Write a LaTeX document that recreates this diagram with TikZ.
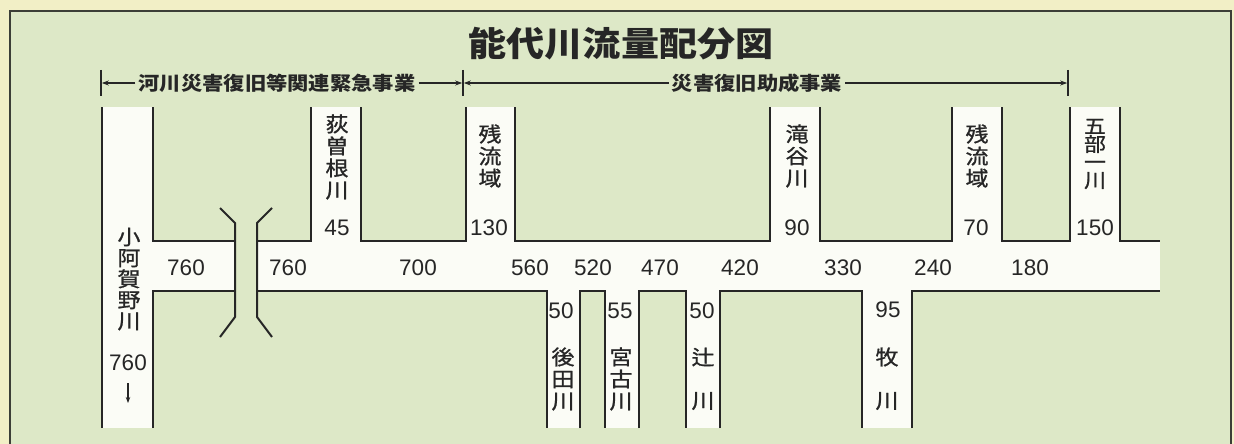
\documentclass[tikz,border=0pt]{standalone}
\usepackage{fontspec}
\setmainfont{Liberation Sans}
\newfontfamily\cjk{Noto Sans CJK JP}[FakeStretch=1.12]
\newfontfamily\cjkm{Noto Sans CJK JP}[FakeStretch=1.12, FakeBold=1]
\usetikzlibrary{arrows.meta}
\definecolor{cream}{RGB}{242,239,198}
\definecolor{panel}{RGB}{221,232,199}
\definecolor{chan}{RGB}{251,252,246}
\definecolor{ink}{RGB}{38,38,38}
\definecolor{frame}{RGB}{60,62,55}
\begin{document}
\begin{tikzpicture}[x=1pt,y=-1pt,
  wall/.style={draw=ink, line width=2.4pt, line join=miter},
  num/.style={font=\fontsize{22.5}{22.5}\selectfont, inner sep=0pt, text=ink},
  vlab/.style={font=\cjkm\fontsize{20.5}{22}\selectfont, align=center, inner sep=0pt, text=ink},
  vlabtight/.style={font=\cjkm\fontsize{19.5}{18}\selectfont, align=center, inner sep=0pt, text=ink},
  hdr/.style={font=\cjk\bfseries\fontsize{19}{19}\selectfont, inner sep=3pt, text=ink},
  harrow/.style={draw=ink, line width=1.5pt, -{Stealth[length=7pt,width=5pt]}},
  hbar/.style={draw=ink, line width=1.5pt}]
\useasboundingbox (0,0) rectangle (1234,444);
% background
\fill[cream] (0,0) rectangle (1234,444);
\fill[panel] (10,11) rectangle (1231,444);
\draw[frame, line width=2pt] (10,444) -- (10,11) -- (1231,11) -- (1231,444);
% title
\node[font=\cjk\bfseries\fontsize{34}{34}\selectfont, inner sep=0pt, text=ink] (title) at (621,44) {能代川流量配分図};
% header
\coordinate (b1) at (101,83);
\coordinate (b2) at (463,83);
\coordinate (b3) at (1068,83);
\draw[hbar] (101,70) -- (101,96);
\draw[hbar] (463,70) -- (463,96);
\draw[hbar] (1068,70) -- (1068,96);
\node[hdr] (h1) at (277,83) {河川災害復旧等関連緊急事業};
\node[hdr] (h2) at (757,83) {災害復旧助成事業};
\draw[harrow, shorten >=0.8pt] (h1.west) -- (b1);
\draw[harrow, shorten >=0.8pt] (h1.east) -- (b2);
\draw[harrow, shorten >=0.8pt] (h2.west) -- (b2);
\draw[harrow, shorten >=0.8pt] (h2.east) -- (b3);
% white channels
\fill[chan] (102,107) rectangle (153,428);
\fill[chan] (153,241) rectangle (235,291);
\fill[chan] (257,241) rectangle (1160,291);
\foreach \a/\b in {311/361,466/515,770/820,952/1002,1070/1120}
  \fill[chan] (\a,107) rectangle (\b,241);
\foreach \a/\b in {547/580,605/639,686/720,862/912}
  \fill[chan] (\a,291) rectangle (\b,428);
% walls, upper side
\draw[wall] (102,107) -- (102,428);
\draw[wall] (153,107) -- (153,241) -- (235,241);
\draw[wall] (257,241) -- (311,241) -- (311,107);
\draw[wall] (361,107) -- (361,241) -- (466,241) -- (466,107);
\draw[wall] (515,107) -- (515,241) -- (770,241) -- (770,107);
\draw[wall] (820,107) -- (820,241) -- (952,241) -- (952,107);
\draw[wall] (1002,107) -- (1002,241) -- (1070,241) -- (1070,107);
\draw[wall] (1120,107) -- (1120,241) -- (1160,241);
% walls, lower side
\draw[wall] (153,428) -- (153,291) -- (235,291);
\draw[wall] (257,291) -- (547,291) -- (547,428);
\draw[wall] (580,428) -- (580,291) -- (605,291) -- (605,428);
\draw[wall] (639,428) -- (639,291) -- (686,291) -- (686,428);
\draw[wall] (720,428) -- (720,291) -- (862,291) -- (862,428);
\draw[wall] (912,428) -- (912,291) -- (1160,291);
% bridge
\draw[wall, line width=2pt] (220,208) -- (235,223) -- (235,317) -- (220,337);
\draw[wall, line width=2pt] (272,208) -- (257,223) -- (257,317) -- (272,337);
% main channel flows
\node[num] (m1) at (186,268) {760};
\node[num] (m2) at (288,268) {760};
\node[num] (m3) at (418,268) {700};
\node[num] (m4) at (530,268) {560};
\node[num] (m5) at (593,268) {520};
\node[num] (m6) at (660,268) {470};
\node[num] (m7) at (740,268) {420};
\node[num] (m8) at (843,268) {330};
\node[num] (m9) at (933,268) {240};
\node[num] (m10) at (1030,268) {180};
% left river
\node[font=\cjkm\fontsize{20.5}{21}\selectfont, align=center, inner sep=0pt, text=ink] (koaga) at (129,279) {小\\阿\\賀\\野\\川};
\node[num] (koagaq) at (128,363) {760};
\coordinate (d1) at (128,383);
\coordinate (d2) at (128,403);
\draw[draw=ink, line width=1.3pt, -{Stealth[length=6pt,width=4.5pt]}] (d1) -- (d2);
% upper tributaries
\node[vlab] (t1) at (337,157) {荻\\曽\\根\\川};
\node[num] (t1q) at (337,228) {45};
\node[vlab] (t2) at (490,156) {残\\流\\域};
\node[num] (t2q) at (489,228) {130};
\node[vlab] (t3) at (797,156) {滝\\谷\\川};
\node[num] (t3q) at (797,228) {90};
\node[vlab] (t4) at (977,156) {残\\流\\域};
\node[num] (t4q) at (976,228) {70};
\node[vlabtight] (t5) at (1095,154) {五\\部\\一\\川};
\node[num] (t5q) at (1095,228) {150};
% lower tributaries
\node[num] (s1q) at (561,311) {50};
\node[vlab] (s1) at (563,379) {後\\田\\川};
\node[num] (s2q) at (620,311) {55};
\node[vlab] (s2) at (621,379) {宮\\古\\川};
\node[num] (s3q) at (702,311) {50};
\node[vlab] (s3a) at (703,357) {辻};
\node[vlab] (s3b) at (703,401) {川};
\node[num] (s4q) at (888,310) {95};
\node[vlab] (s4a) at (887,357) {牧};
\node[vlab] (s4b) at (887,401) {川};
\end{tikzpicture}
\end{document}
